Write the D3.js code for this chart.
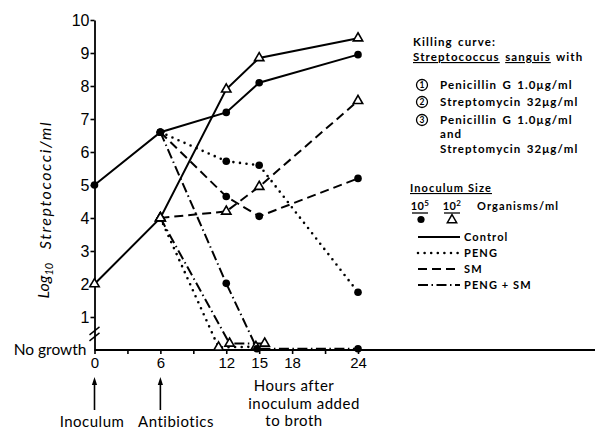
<!DOCTYPE html>
<html>
<head>
<meta charset="utf-8">
<script src="https://cdnjs.cloudflare.com/ajax/libs/d3/7.8.5/d3.min.js"></script>
<style>
  body { margin: 0; background: #fff; }
  svg { display: block; font-family: "Lato", "Noto Sans", sans-serif; }
</style>
</head>
<body>
<svg id="chart"></svg>
<script>
var width = 595;
var height = 430;

// hours after inoculum / log10 streptococci per ml (0 = no growth)
var xTicks = [0, 3, 6, 9, 12, 15, 18, 21, 24];
var xLabels = [0, 6, 12, 15, 18, 24];
var yTicks = [1, 2, 3, 4, 5, 6, 7, 8, 9, 10];

var controlHours = [0, 6, 12, 15, 24];
var control5 = [5.0, 6.6, 7.2, 8.1, 8.95];
var control2 = [2.0, 4.0, 7.9, 8.85, 9.45];

var peng5Hours = [6, 12, 15, 24];
var peng5 = [6.6, 5.72, 5.6, 1.75];
var peng2Hours = [6, 11.3, 14.7];
var peng2 = [4.0, 0.08, 0.1];

var sm5Hours = [6, 12, 15, 24];
var sm5 = [6.6, 4.65, 4.05, 5.2];
var sm2Hours = [6, 12, 15, 24];
var sm2 = [4.0, 4.2, 4.95, 7.55];

var pengSm5Hours = [6, 12, 14.8, 24];
var pengSm5 = [6.6, 2.02, 0.04, 0.04];
var pengSm2Hours = [6, 12.3, 15.5];
var pengSm2 = [4.0, 0.2, 0.2];

var legendNames = ['Control', 'PENG', 'SM', 'PENG + SM'];

function dash(type){
  switch(type) {
    case 'PENG':
      return '0 6.6';
    case 'SM':
      return '9 5';
    case 'PENG + SM':
      return '10 3.5 1.5 3.5';
    default:
      return null;
  }
}

function zip(hours, vals){
  return hours.map(function(h, i){ return {h: h, v: vals[i]}; });
}

var series = [
  {type: 'Control', mark: 'circle', pts: zip(controlHours, control5)},
  {type: 'Control', mark: 'tri', pts: zip(controlHours, control2)},
  {type: 'PENG', mark: 'circle', pts: zip(peng5Hours, peng5)},
  {type: 'PENG', mark: 'tri', pts: zip(peng2Hours, peng2)},
  {type: 'SM', mark: 'circle', pts: zip(sm5Hours, sm5)},
  {type: 'SM', mark: 'tri', pts: zip(sm2Hours, sm2)},
  {type: 'PENG + SM', mark: 'circle', pts: zip(pengSm5Hours, pengSm5)},
  {type: 'PENG + SM', mark: 'tri', pts: zip(pengSm2Hours, pengSm2)}
];

var svg = d3.select('#chart')
            .attr('width', width)
            .attr('height', height);

var xScale = d3.scaleLinear()
               .domain([0, 24])
               .range([94.5, 358]);

var yScale = d3.scaleLinear()
               .domain([0, 10])
               .range([350, 20]);

var triangle = d3.symbol().type(d3.symbolTriangle).size(38);

// x axis, baseline runs out to the page edge
var xAxis = svg.append('g')
               .attr('transform', `translate(0, ${yScale(0)})`)
               .call(d3.axisBottom(xScale)
                          .tickValues(xTicks)
                          .tickSize(4)
                          .tickSizeOuter(0)
                          .tickPadding(3)
                          .tickFormat(d => xLabels.indexOf(d) >= 0 ? d : ''));
xAxis.select('.domain').remove();
xAxis.selectAll('line').attr('stroke-width', 1.6);
xAxis.selectAll('text').style('font-size', '15px').attr('fill', '#000');

svg.append('line')
   .attr('x1', xScale(0)).attr('x2', width)
   .attr('y1', yScale(0)).attr('y2', yScale(0))
   .attr('stroke', '#000').attr('stroke-width', 1.8);

var yAxis = svg.append('g')
               .attr('transform', `translate(${xScale(0)}, 0)`)
               .call(d3.axisLeft(yScale)
                          .tickValues(yTicks)
                          .tickSize(4)
                          .tickSizeOuter(0)
                          .tickPadding(1));
yAxis.select('.domain').attr('stroke-width', 1.8);
yAxis.selectAll('line').attr('stroke-width', 1.6);
yAxis.selectAll('text').style('font-size', '16px').attr('fill', '#000');

// axis break
[0, 6].forEach(function(off){
  svg.append('line')
     .attr('x1', xScale(0) - 5).attr('y1', yScale(0.4) - off + 4)
     .attr('x2', xScale(0) + 5).attr('y2', yScale(0.4) - off - 4)
     .attr('stroke', '#000').attr('stroke-width', 1.5);
});

svg.append('text')
   .attr('x', xScale(0) - 8)
   .attr('y', yScale(0))
   .attr('dy', '0.35em')
   .style('text-anchor', 'end')
   .style('font-size', '15.5px')
   .text('No growth');

// y label
svg.append('text')
   .attr('transform', `translate(49, ${yScale(2.1)}) rotate(-90)`)
   .style('text-anchor', 'middle')
   .style('font-size', '16px')
   .style('font-style', 'italic')
   .html('Log<tspan dy="4" font-size="11">10</tspan>');

svg.append('text')
   .attr('transform', `translate(51, ${yScale(5.0)}) rotate(-90)`)
   .style('text-anchor', 'middle')
   .style('font-size', '16px')
   .style('font-style', 'italic')
   .style('letter-spacing', '1.6px')
   .text('Streptococci/ml');

// lines
var line = d3.line()
             .x(d => xScale(d.h))
             .y(d => yScale(d.v));

svg.selectAll('path.series')
   .data(series)
   .enter()
   .append('path')
     .classed('series', true)
     .attr('fill', 'none')
     .attr('stroke', '#000')
     .attr('stroke-width', d => d.type === 'PENG' ? 2.6 : 2)
     .attr('stroke-linecap', d => d.type === 'PENG' ? 'round' : 'butt')
     .attr('stroke-dasharray', d => dash(d.type))
     .attr('d', d => line(d.pts));

// markers
series.forEach(function(s){
  if(s.mark === 'circle'){
    svg.selectAll(null)
       .data(s.pts)
       .enter()
       .append('circle')
         .attr('cx', d => xScale(d.h))
         .attr('cy', d => yScale(d.v))
         .attr('r', 3.8)
         .attr('fill', '#000');
  } else {
    svg.selectAll(null)
       .data(s.pts)
       .enter()
       .append('path')
         .attr('transform', d => `translate(${xScale(d.h)}, ${yScale(d.v)})`)
         .attr('d', triangle)
         .attr('fill', '#fff')
         .attr('stroke', '#000')
         .attr('stroke-width', 1.6);
  }
});

// arrows and notes below the axis
function arrow(h, label, cx){
  var x = xScale(h);
  svg.append('line')
     .attr('x1', x).attr('x2', x)
     .attr('y1', 383).attr('y2', 410)
     .attr('stroke', '#000').attr('stroke-width', 1.6);
  svg.append('path')
     .attr('d', `M${x - 2.6},${385} L${x},${377} L${x + 2.6},${385} Z`)
     .attr('fill', '#000');
  svg.append('text')
     .attr('x', cx)
     .attr('y', 427)
     .style('text-anchor', 'middle')
     .style('font-size', '15px')
     .style('letter-spacing', '0.5px')
     .text(label);
}
arrow(0, 'Inoculum', 92);
arrow(6, 'Antibiotics', 176);

['Hours after', 'inoculum added', 'to broth'].forEach(function(t, i){
  svg.append('text')
     .attr('x', i === 1 ? 304 : 294)
     .attr('y', 391 + i * 17.5)
     .style('text-anchor', 'middle')
     .style('font-size', '15px')
     .style('letter-spacing', '0.5px')
     .text(t);
});

// legend
var legend = svg.append('g')
                .style('font-size', '11px')
                .style('font-weight', 700)
                .style('letter-spacing', '1.1px');

var head = legend.append('g')
                 .style('font-size', '11.5px')
                 .style('word-spacing', '1.5px');

head.append('text').attr('x', 413).attr('y', 46).text('Killing curve:');
var sp = head.append('text').attr('x', 413).attr('y', 61);
sp.append('tspan').attr('text-decoration', 'underline').text('Streptococcus');
sp.append('tspan').text(' ');
sp.append('tspan').attr('text-decoration', 'underline').text('sanguis');
sp.append('tspan').text(' with');

var drugs = [
  ['1', 'Penicillin G 1.0\u03bcg/ml', 89],
  ['2', 'Streptomycin 32\u03bcg/ml', 106],
  ['3', 'Penicillin G 1.0\u03bcg/ml', 124]
];
drugs.forEach(function(d){
  head.append('circle')
      .attr('cx', 422).attr('cy', d[2] - 4).attr('r', 5.5)
      .attr('fill', 'none').attr('stroke', '#000').attr('stroke-width', 1.3);
  head.append('text')
      .attr('x', 422).attr('y', d[2] - 0.8)
      .style('text-anchor', 'middle').style('font-size', '8.5px')
      .style('letter-spacing', '0px')
      .text(d[0]);
  head.append('text').attr('x', 440).attr('y', d[2]).text(d[1]);
});
head.append('text').attr('x', 440).attr('y', 138).text('and');
head.append('text').attr('x', 440).attr('y', 153).text('Streptomycin 32\u03bcg/ml');

legend.append('text')
      .attr('x', 410).attr('y', 192)
      .attr('text-decoration', 'underline')
      .text('Inoculum Size');

var sizes = legend.append('g');
[['5', 420], ['2', 452]].forEach(function(d){
  sizes.append('text')
       .attr('x', d[1]).attr('y', 210)
       .style('text-anchor', 'middle')
       .style('letter-spacing', '0.3px')
       .html(`10<tspan dy="-4" font-size="8">${d[0]}</tspan>`);
  sizes.append('line')
       .attr('x1', d[1] - 8).attr('x2', d[1] + 8)
       .attr('y1', 213).attr('y2', 213)
       .attr('stroke', '#000').attr('stroke-width', 1.3);
});
sizes.append('circle').attr('cx', 421).attr('cy', 219.5).attr('r', 3.6).attr('fill', '#000');
sizes.append('path')
     .attr('transform', 'translate(452, 220)')
     .attr('d', triangle)
     .attr('fill', '#fff').attr('stroke', '#000').attr('stroke-width', 1.5);
legend.append('text').attr('x', 477).attr('y', 210).text('Organisms/ml');

legendNames.forEach(function(name, i){
  var y = 237 + i * 16;
  legend.append('line')
        .attr('x1', 418).attr('x2', 460)
        .attr('y1', y).attr('y2', y)
        .attr('stroke', '#000')
        .attr('stroke-width', name === 'PENG' ? 2.6 : 2)
        .attr('stroke-linecap', name === 'PENG' ? 'round' : 'butt')
        .attr('stroke-dasharray', dash(name));
  legend.append('text').attr('x', 464).attr('y', y + 4).text(name);
});
</script>
</body>
</html>
